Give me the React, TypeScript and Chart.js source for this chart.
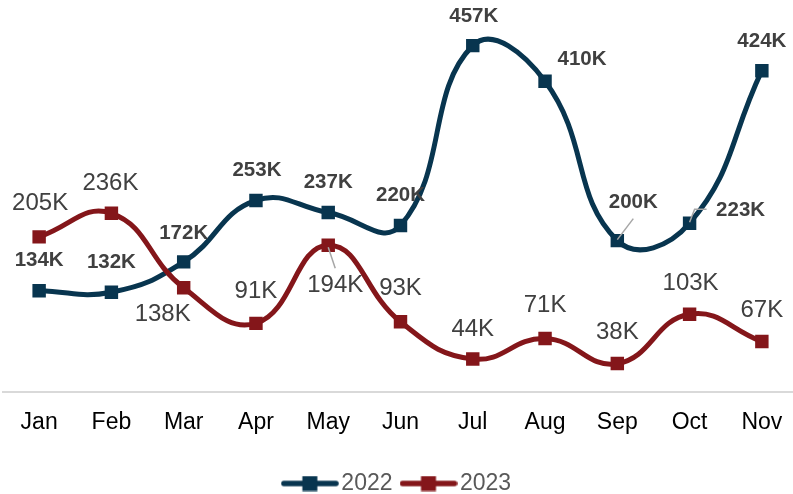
import React, { useEffect, useRef } from 'react';
import { Chart, registerables } from 'chart.js';

Chart.register(...registerables);

// ---- data ----
const months = ['Jan', 'Feb', 'Mar', 'Apr', 'May', 'Jun', 'Jul', 'Aug', 'Sep', 'Oct', 'Nov'];
const sales2022 = [134, 132, 172, 253, 237, 220, 457, 410, 200, 223, 424];
const sales2023 = [205, 236, 138, 91, 194, 93, 44, 71, 38, 103, 67];
const seriesNames = ['2022', '2023'];

// ---- styling ----
const NAVY = '#08354f';
const RED = '#84161a';
const FONT = "'Liberation Sans', Arial, Helvetica, sans-serif";

// label centre offsets relative to each point (px)
const labelOffsets2022 = [[0, -30], [0, -30], [0, -29], [1, -30], [0, -30], [0, -30], [1, -29], [37, -22], [16, -38], [51, -13], [0, -29]];
const labelOffsets2023 = [[1, -33], [-1, -30], [-21, 27], [0, -32], [7, 40], [0, -33], [0, -30], [0, -33], [0, -31], [1, -31], [0, -31]];
// leader lines (relative polyline) keyed by point index
const leaders2022: Record<number, number[][]> = { 8: [[0, -1], [16, -22]], 9: [[0, -1], [5, -14], [17, -14]] };
const leaders2023: Record<number, number[][]> = { 4: [[0, 2], [7, 23]] };

function legendIcon(color: string): HTMLCanvasElement {
  const c = document.createElement('canvas');
  c.width = 58;
  c.height = 16;
  const g = c.getContext('2d')!;
  g.strokeStyle = color;
  g.lineWidth = 5.5;
  g.lineCap = 'round';
  g.beginPath();
  g.moveTo(3, 8);
  g.lineTo(55, 8);
  g.stroke();
  g.fillStyle = color;
  g.fillRect(21.5, 0.5, 15, 15);
  return c;
}

const labelPlugin = {
  id: 'pointLabels',
  afterDatasetsDraw(chart: any) {
    const ctx = chart.ctx as CanvasRenderingContext2D;
    const cfgs = [
      { offs: labelOffsets2022, leaders: leaders2022, font: `bold 20.5px ${FONT}`, color: '#404040' },
      { offs: labelOffsets2023, leaders: leaders2023, font: `24px ${FONT}`, color: '#404040' },
    ];
    chart.data.datasets.forEach((ds: any, di: number) => {
      const meta = chart.getDatasetMeta(di);
      const cfg = cfgs[di];
      meta.data.forEach((pt: any, i: number) => {
        const ld = cfg.leaders[i];
        if (ld) {
          ctx.save();
          ctx.strokeStyle = '#a6a6a6';
          ctx.lineWidth = 1.5;
          ctx.beginPath();
          ld.forEach((p, k) => {
            if (k === 0) ctx.moveTo(pt.x + p[0], pt.y + p[1]);
            else ctx.lineTo(pt.x + p[0], pt.y + p[1]);
          });
          ctx.stroke();
          ctx.restore();
        }
        const [dx, dy] = cfg.offs[i];
        ctx.save();
        ctx.font = cfg.font;
        ctx.fillStyle = cfg.color;
        ctx.textAlign = 'center';
        ctx.textBaseline = 'middle';
        ctx.fillText(`${ds.data[i]}K`, pt.x + dx, pt.y + dy);
        ctx.restore();
      });
    });
  },
};

export default function App() {
  const ref = useRef<HTMLCanvasElement | null>(null);

  useEffect(() => {
    if (!ref.current) return;
    const icons = [legendIcon(NAVY), legendIcon(RED)];
    const chart = new Chart(ref.current, {
      type: 'line',
      data: {
        labels: months,
        datasets: [
          {
            label: seriesNames[0],
            data: sales2022,
            borderColor: NAVY,
            backgroundColor: NAVY,
            borderWidth: 5,
            borderCapStyle: 'round',
            tension: 0.45,
            pointStyle: 'rect',
            pointRadius: 9.5,
            pointBorderWidth: 0,
            pointBackgroundColor: NAVY,
            order: 1,
          },
          {
            label: seriesNames[1],
            data: sales2023,
            borderColor: RED,
            backgroundColor: RED,
            borderWidth: 5,
            borderCapStyle: 'round',
            tension: 0.45,
            pointStyle: 'rect',
            pointRadius: 9.5,
            pointBorderWidth: 0,
            pointBackgroundColor: RED,
            order: 0,
          },
        ],
      },
      options: {
        responsive: false,
        animation: false,
        devicePixelRatio: 1,
        layout: { autoPadding: false, padding: { left: 3, right: 2, top: 13, bottom: 0 } },
        scales: {
          x: {
            offset: true,
            grid: { display: false, drawTicks: false },
            border: { display: true, color: '#d9d9d9', width: 2 },
            ticks: { color: '#000000', font: { family: FONT, size: 23 }, padding: 16 },
            title: { display: true, text: ' ', font: { size: 4, lineHeight: 1 }, padding: 0 },
          },
          y: {
            display: false,
            min: 0,
            max: 500,
          },
        },
        plugins: {
          tooltip: { enabled: false },
          legend: {
            position: 'bottom',
            labels: {
              usePointStyle: true,
              pointStyleWidth: 40,
              padding: 16,
              color: '#595959',
              font: { family: FONT, size: 23 },
              sort: (a: any, b: any) => a.datasetIndex - b.datasetIndex,
              generateLabels: (ch: any) => {
                const items = Chart.defaults.plugins.legend.labels.generateLabels(ch);
                items.forEach((it: any) => {
                  it.pointStyle = icons[it.datasetIndex];
                });
                return items;
              },
            },
          },
        },
      },
      plugins: [labelPlugin],
    });
    return () => chart.destroy();
  }, []);

  return (
    <div style={{ position: 'fixed', left: 0, top: 0, width: 793, height: 494, overflow: 'hidden', background: '#ffffff' }}>
      <canvas ref={ref} width={800} height={505} style={{ display: 'block' }} />
    </div>
  );
}
